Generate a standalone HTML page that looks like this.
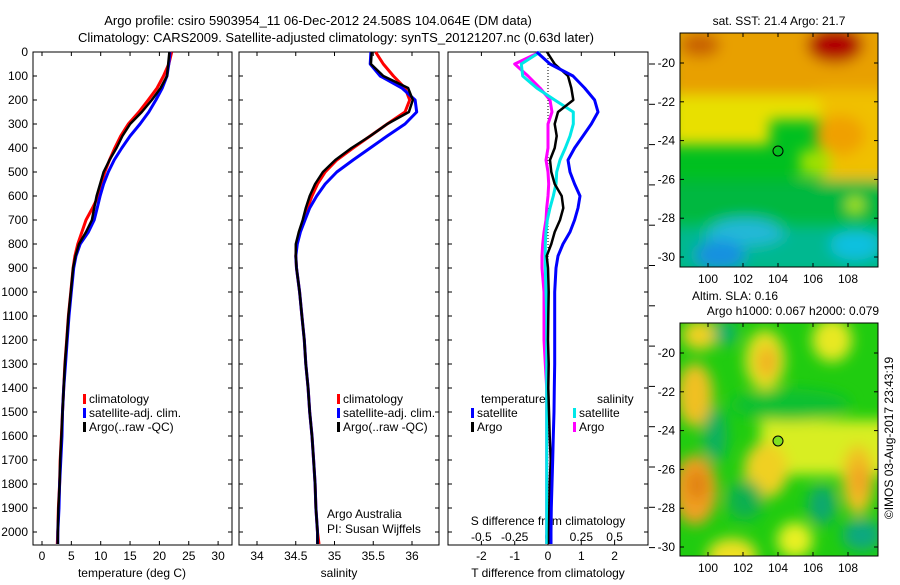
<!DOCTYPE html>
<html><head><meta charset="utf-8"><style>
html,body{margin:0;padding:0;background:#fff;}
body{width:900px;height:580px;overflow:hidden;font-family:"Liberation Sans",sans-serif;}
svg text{font-family:"Liberation Sans",sans-serif;font-size:12px;fill:#000;}
</style></head><body>
<svg id="fig" width="900" height="580" viewBox="0 0 900 580" xmlns="http://www.w3.org/2000/svg">
<defs>
<filter id="blur" x="-20%" y="-20%" width="140%" height="140%"><feGaussianBlur stdDeviation="7"/></filter>
<clipPath id="clipA"><rect x="680" y="33" width="198" height="234"/></clipPath>
<clipPath id="clipB"><rect x="680" y="323" width="198" height="233"/></clipPath>
</defs>
<text x="318" y="25" text-anchor="middle" style="font-size:13px">Argo profile: csiro 5903954_11 06-Dec-2012 24.508S 104.064E (DM data)</text>
<text x="336" y="42" text-anchor="middle" style="font-size:13px">Climatology: CARS2009. Satellite-adjusted climatology: synTS_20121207.nc (0.63d later)</text>

<!-- SST map -->
<g clip-path="url(#clipA)">
<rect x="680" y="33" width="198" height="234" fill="#00c020"/>
<g filter="url(#blur)">
<rect x="670" y="20" width="220" height="85" fill="#e8a000"/>
<rect x="670" y="95" width="100" height="50" fill="#e8e000"/>
<rect x="770" y="95" width="60" height="25" fill="#e8e000"/>
<rect x="820" y="90" width="70" height="90" fill="#f0c000"/>
<ellipse cx="840" cy="135" rx="25" ry="20" fill="#f0a000"/>
<ellipse cx="835" cy="45" rx="28" ry="18" fill="#b00000"/>
<ellipse cx="700" cy="45" rx="20" ry="12" fill="#c86000"/>
<rect x="800" y="150" width="30" height="25" fill="#a0e000"/>
<rect x="670" y="180" width="220" height="40" fill="#00b840"/>
<rect x="670" y="225" width="220" height="50" fill="#00b890"/>
<ellipse cx="745" cy="232" rx="40" ry="14" fill="#20b8d8"/>
<ellipse cx="855" cy="245" rx="25" ry="15" fill="#10c0e0"/>
<ellipse cx="720" cy="255" rx="25" ry="15" fill="#1890e0"/>
<ellipse cx="855" cy="205" rx="7" ry="8" fill="#c0f000"/>
</g></g>
<rect x="680" y="33" width="198" height="234" fill="none" stroke="#000"/>
<circle cx="778" cy="151" r="5" fill="none" stroke="#000"/>
<text x="779" y="25" text-anchor="middle">sat. SST: 21.4  Argo: 21.7</text>

<!-- SLA map -->
<g clip-path="url(#clipB)">
<rect x="680" y="323" width="198" height="233" fill="#20cc10"/>
<g filter="url(#blur)">
<rect x="760" y="420" width="140" height="55" fill="#d8ee20"/>
<ellipse cx="766" cy="470" rx="22" ry="28" fill="#f0d020"/>
<ellipse cx="765" cy="360" rx="20" ry="30" fill="#e8e020"/>
<ellipse cx="767" cy="362" rx="10" ry="16" fill="#f0b020"/>
<ellipse cx="695" cy="395" rx="18" ry="32" fill="#f0c020"/>
<ellipse cx="695" cy="490" rx="22" ry="35" fill="#f0a020"/>
<ellipse cx="697" cy="485" rx="10" ry="16" fill="#e08010"/>
<ellipse cx="700" cy="335" rx="18" ry="15" fill="#f0d020"/>
<ellipse cx="832" cy="340" rx="20" ry="22" fill="#e8e820"/>
<ellipse cx="858" cy="480" rx="16" ry="35" fill="#f0c020"/>
<ellipse cx="860" cy="480" rx="8" ry="16" fill="#f0a020"/>
<ellipse cx="732" cy="556" rx="25" ry="18" fill="#f0e020"/>
<ellipse cx="795" cy="540" rx="18" ry="18" fill="#e8f020"/>
<ellipse cx="715" cy="435" rx="12" ry="28" fill="#10b060"/>
<ellipse cx="790" cy="405" rx="60" ry="16" fill="#10c030"/>
<ellipse cx="745" cy="500" rx="18" ry="20" fill="#10b050"/>
<ellipse cx="822" cy="505" rx="14" ry="20" fill="#10a870"/>
<ellipse cx="862" cy="535" rx="20" ry="16" fill="#10a880"/>
<ellipse cx="725" cy="333" rx="12" ry="12" fill="#10b070"/>
</g></g>
<rect x="680" y="323" width="198" height="233" fill="none" stroke="#000"/>
<circle cx="778" cy="441" r="5" fill="#80e020" stroke="#000"/>
<text x="735" y="300" text-anchor="middle">Altim. SLA: 0.16</text>
<text x="793" y="315" text-anchor="middle">Argo h1000: 0.067 h2000: 0.079</text>
<text transform="translate(893,438) rotate(-90)" text-anchor="middle">©IMOS 03-Aug-2017 23:43:19</text>
<g id="mapaxes"></g>
<g id="plots"></g>
</svg>
<script>
const depths=[0,50,100,150,200,250,300,350,400,450,500,550,600,650,700,750,800,850,900,1000,1100,1200,1300,1400,1500,1600,1700,1800,1900,2000,2050];
const tempClim=[22.1,21.6,20.7,19.6,18.1,16.5,14.7,13.4,12.4,11.5,10.7,10.1,9.6,8.6,7.5,6.8,6.1,5.6,5.3,4.9,4.5,4.2,3.9,3.7,3.5,3.3,3.1,3.0,2.8,2.7,2.6];
const tempSat=[21.8,21.6,21.3,20.5,19.4,18.2,16.7,15.0,13.6,12.3,11.3,10.5,9.9,9.4,8.9,7.9,6.5,5.8,5.4,5.0,4.6,4.3,4.0,3.7,3.5,3.4,3.2,3.0,2.9,2.7,2.7];
const tempArgo=[21.7,21.5,21.3,20.2,18.7,17.0,15.0,13.7,12.7,11.5,10.5,9.9,9.3,8.9,8.5,7.5,6.3,5.7,5.3,4.9,4.5,4.2,3.9,3.7,3.5,3.3,3.1,3.0,2.8,2.7,2.7];
const salClim=[35.53,35.63,35.76,35.91,35.97,35.91,35.68,35.46,35.24,35.03,34.88,34.78,34.71,34.65,34.6,34.55,34.51,34.5,34.51,34.55,34.58,34.61,34.63,34.66,34.68,34.71,34.73,34.75,34.76,34.78,34.8];
const salSat=[35.47,35.46,35.59,35.87,36.04,36.06,35.91,35.68,35.46,35.24,35.03,34.88,34.77,34.68,34.62,34.56,34.52,34.5,34.51,34.55,34.58,34.61,34.63,34.66,34.68,34.71,34.73,34.75,34.76,34.78,34.78];
const salArgo=[35.48,35.47,35.63,35.95,36.01,35.96,35.68,35.46,35.22,35.01,34.85,34.75,34.68,34.63,34.59,34.54,34.5,34.5,34.51,34.55,34.58,34.61,34.63,34.66,34.68,34.71,34.73,34.75,34.76,34.78,34.78];
const tDiffSat=[-0.34,0.06,0.75,1.1,1.4,1.5,1.3,1.05,0.8,0.6,0.66,0.8,0.96,0.9,0.8,0.66,0.45,0.3,0.24,0.2,0.2,0.2,0.2,0.19,0.18,0.16,0.14,0.12,0.1,0.09,0.09];
const tDiffArgo=[-0.03,0.2,0.6,0.7,0.76,0.3,0.2,0.26,0.2,0.06,0.1,0.2,0.41,0.46,0.36,0.2,0.1,-0.04,0,0.02,0.01,0.0,0.02,0.01,0.03,0.05,0.08,0.05,0.04,0.03,0.03];
const sDiffSat=[-0.06,-0.2,-0.19,-0.085,0.05,0.19,0.19,0.165,0.13,0.09,0.065,0.06,0.04,0.015,-0.005,-0.015,-0.02,-0.02,-0.02,-0.015,-0.01,-0.01,-0.01,-0.01,-0.01,-0.01,-0.01,-0.01,-0.01,-0.01,-0.01];
const sDiffArgo=[-0.06,-0.25,-0.15,-0.06,0.015,0.03,0,0,0,-0.015,0,0.005,0,-0.01,-0.015,-0.03,-0.04,-0.045,-0.045,-0.03,-0.03,-0.03,-0.02,-0.01,-0.01,-0.01,-0.01,-0.01,-0.01,-0.01,-0.01];
const depthTicks=[0,100,200,300,400,500,600,700,800,900,1000,1100,1200,1300,1400,1500,1600,1700,1800,1900,2000];
const tempTicks=[0,5,10,15,20,25,30];
const salTicks=[34,34.5,35,35.5,36];
const tdTicks=[-2,-1,0,1,2];
const sdTicks=[-0.5,-0.25,0,0.25,0.5];
const latTicks=[-20,-22,-24,-26,-28,-30];
const lonTicks=[100,102,104,106,108];

const NS='http://www.w3.org/2000/svg';
const plots=document.getElementById('plots');
function mk(tag,attrs,parent){const e=document.createElementNS(NS,tag);for(const k in attrs)e.setAttribute(k,attrs[k]);(parent||plots).appendChild(e);return e;}
const Y0=52,Y1=545;
const yD=d=>Y0+0.24*d;
const P1={x0:33,x1:232,sx:v=>42+5.87*v};
const P2={x0:239,x1:439,sx:v=>257+77.5*(v-34)};
const P3={x0:448,x1:648,sx:v=>548+33.3*v};
const sS=v=>548+133.3*v;

function frame(P,name){
  const r=mk('rect',{x:P.x0,y:Y0,width:P.x1-P.x0,height:Y1-Y0,fill:'none',stroke:'#000'});
  
  
  depthTicks.forEach(d=>{mk('line',{x1:P.x0,x2:P.x0+4,y1:yD(d),y2:yD(d),stroke:'#000'});mk('line',{x1:P.x1,x2:P.x1-4,y1:yD(d),y2:yD(d),stroke:'#000'});});
}
frame(P1,'temperature-panel');frame(P2,'salinity-panel');frame(P3,'difference-panel');
depthTicks.forEach(d=>{
  const t=mk('text',{x:28,y:yD(d)+4,'text-anchor':'end'});t.textContent=d;
  
  
});
function xticks(P,ticks,fn,y){
  ticks.forEach(v=>{const x=fn(v);
    mk('line',{x1:x,x2:x,y1:Y1,y2:Y1-4,stroke:'#000'});mk('line',{x1:x,x2:x,y1:Y0,y2:Y0+4,stroke:'#000'});
    const t=mk('text',{x:x,y:y,'text-anchor':'middle'});t.textContent=v;
    
    
  });
}
xticks(P1,tempTicks,P1.sx,560);xticks(P2,salTicks,P2.sx,560);xticks(P3,tdTicks,P3.sx,560);
sdTicks.forEach(v=>{const t=mk('text',{x:sS(v),y:541,'text-anchor':'middle'});t.textContent=v;
  
  });
for(let k=0;k<13;k++){mk('line',{x1:649,x2:655,y1:64+40.3*k,y2:64+40.3*k,stroke:'#000'});}
const labs=[[132,'temperature (deg C)'],[339,'salinity'],[548,'T difference from climatology']];
labs.forEach(([x,s])=>{const t=mk('text',{x:x,y:577,'text-anchor':'middle'});t.textContent=s;
  
  });
const sl=mk('text',{x:548,y:525,'text-anchor':'middle'});sl.textContent='S difference from climatology';


const dz=mk('line',{x1:548,x2:548,y1:Y0,y2:Y1,stroke:'#000','stroke-dasharray':'1,2'});



function line(vals,fx,col,name,w){
  const pts=vals.map((v,i)=>fx(v).toFixed(1)+','+yD(depths[i]).toFixed(1)).join(' ');
  const p=mk('polyline',{points:pts,fill:'none',stroke:col,'stroke-width':w||3,'stroke-linejoin':'round'});
  
  
}
line(tempClim,P1.sx,'#ff0000','temp-climatology-line');
line(tempSat,P1.sx,'#0000ff','temp-satellite-line');
line(tempArgo,P1.sx,'#000','temp-argo-line',2.5);
line(salClim,P2.sx,'#ff0000','sal-climatology-line');
line(salSat,P2.sx,'#0000ff','sal-satellite-line');
line(salArgo,P2.sx,'#000','sal-argo-line',2.5);
line(sDiffArgo,sS,'#ff00ff','s-diff-argo-line');
line(sDiffSat,sS,'#00e8e8','s-diff-satellite-line');
line(tDiffArgo,P3.sx,'#000','t-diff-argo-line',2.5);
line(tDiffSat,P3.sx,'#0000ff','t-diff-satellite-line');

function legend(x,y,col,txt,name){
  mk('rect',{x:x,y:y-9,width:3,height:10,fill:col});
  const t=mk('text',{x:x+6,y:y});t.textContent=txt;
  
  
}
[[83,'#ff0000','climatology'],[83,'#0000ff','satellite-adj. clim.'],[83,'#000','Argo(..raw -QC)']].forEach((a,i)=>legend(a[0],403+14*i,a[1],a[2],'temp-legend-entry'));
[[337,'#ff0000','climatology'],[337,'#0000ff','satellite-adj. clim.'],[337,'#000','Argo(..raw -QC)']].forEach((a,i)=>legend(a[0],403+14*i,a[1],a[2],'sal-legend-entry'));
let t=mk('text',{x:481,y:403});t.textContent='temperature';


t=mk('text',{x:597,y:403});t.textContent='salinity';


legend(471,417,'#0000ff','satellite','legend-t-satellite');
legend(471,431,'#000','Argo','legend-t-argo');
legend(573,417,'#00e8e8','satellite','legend-s-satellite');
legend(573,431,'#ff00ff','Argo','legend-s-argo');
t=mk('text',{x:327,y:518});t.textContent='Argo Australia';


t=mk('text',{x:327,y:533});t.textContent='PI: Susan Wijffels';



const ma=document.getElementById('mapaxes');
[[33,267],[323,556]].forEach(([top,bot])=>{
  const lat=v=>top+30+19.4*(-20-v);
  latTicks.forEach(v=>{const y=lat(v);
    mk('line',{x1:680,x2:684,y1:y,y2:y,stroke:'#000'},ma);mk('line',{x1:878,x2:874,y1:y,y2:y,stroke:'#000'},ma);
    const tt=mk('text',{x:675,y:y+4,'text-anchor':'end'},ma);tt.textContent=v;
    
    });
  lonTicks.forEach(v=>{const x=708+17.5*(v-100);
    mk('line',{x1:x,x2:x,y1:bot,y2:bot-4,stroke:'#000'},ma);mk('line',{x1:x,x2:x,y1:top,y2:top+4,stroke:'#000'},ma);
    const tt=mk('text',{x:x,y:bot+16,'text-anchor':'middle'},ma);tt.textContent=v;
    
    });
});
</script>
</body></html>
